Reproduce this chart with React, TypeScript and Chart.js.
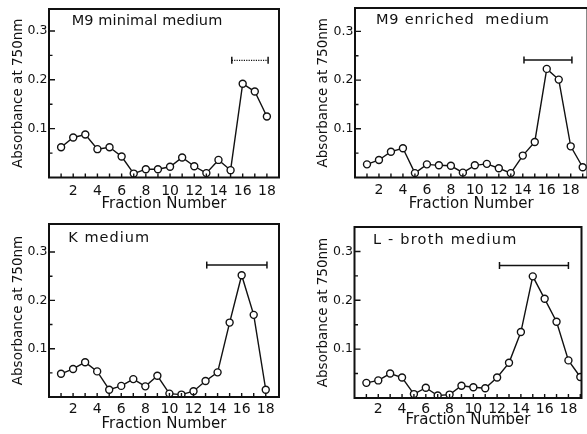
import { useEffect, useRef } from 'react';
import { Chart, registerables } from 'chart.js';

Chart.register(...registerables);

// ---------- data ----------
const fractions18 = [1, 2, 3, 4, 5, 6, 7, 8, 9, 10, 11, 12, 13, 14, 15, 16, 17, 18];
const fractions19 = [1, 2, 3, 4, 5, 6, 7, 8, 9, 10, 11, 12, 13, 14, 15, 16, 17, 18, 19];

const m9MinimalValues = [0.062, 0.082, 0.088, 0.058, 0.062, 0.043, 0.008, 0.017, 0.017, 0.022, 0.041, 0.023, 0.009, 0.036, 0.015, 0.192, 0.176, 0.125];
const m9EnrichedValues = [0.027, 0.036, 0.053, 0.060, 0.009, 0.027, 0.025, 0.024, 0.010, 0.025, 0.028, 0.019, 0.009, 0.045, 0.073, 0.223, 0.201, 0.064, 0.021];
const kMediumValues = [0.048, 0.058, 0.072, 0.053, 0.015, 0.023, 0.037, 0.022, 0.044, 0.007, 0.005, 0.012, 0.033, 0.051, 0.154, 0.252, 0.170, 0.015];
const lBrothValues = [0.031, 0.036, 0.050, 0.042, 0.008, 0.021, 0.005, 0.007, 0.025, 0.022, 0.020, 0.042, 0.072, 0.135, 0.249, 0.203, 0.156, 0.077, 0.043];

// pooled-fraction bars: [from, to, level]
const m9MinimalPool = [15.1, 18.1, 0.24];
const m9EnrichedPool = [14.1, 18.1, 0.241];
const kMediumPool = [13.1, 18.1, 0.273];
const lBrothPool = [12.2, 18.0, 0.271];

const panelTitles = ['M9 minimal medium', 'M9 enriched  medium', 'K medium', 'L - broth medium'];
const xTickLabels = [2, 4, 6, 8, 10, 12, 14, 16, 18];
const yTickLabels = [0.1, 0.2, 0.3];
const yMinorTicks = [0.05, 0.15, 0.25];
const xAxisTitle = 'Fraction Number';
const yAxisTitle = 'Absorbance at 750nm';

// ---------- layout (positions / styles) ----------
type Layout = {
  left: number; top: number; w: number; h: number;
  areaLeft: number; areaTop: number; areaRight: number; areaBottom: number;
  xMax: number; yMax: number;
  yTitlePad: number; xLabelPad: number; xTitlePad: number;
  titleDx: number; titleDy: number; titleSpacing: number;
  dashed: boolean;
};

const layouts: Layout[] = [
  { left: 0, top: 0, w: 293, h: 217, areaLeft: 49, areaTop: 9, areaRight: 279, areaBottom: 177.5, xMax: 19, yMax: 0.345,
    yTitlePad: 9.9, xLabelPad: 5, xTitlePad: 4, titleDx: 22.7, titleDy: 12.7, titleSpacing: 0.1, dashed: true },
  { left: 293, top: 0, w: 300, h: 217, areaLeft: 62, areaTop: 8, areaRight: 296.7, areaBottom: 177.5, xMax: 19.4, yMax: 0.348,
    yTitlePad: 22.4, xLabelPad: 4.5, xTitlePad: 4, titleDx: 21, titleDy: 12, titleSpacing: 0.8, dashed: false },
  { left: 0, top: 217, w: 293, h: 217, areaLeft: 49, areaTop: 7, areaRight: 279, areaBottom: 180, xMax: 19.1, yMax: 0.358,
    yTitlePad: 9.9, xLabelPad: 4.3, xTitlePad: 0.7, titleDx: 19.3, titleDy: 14.7, titleSpacing: 1, dashed: false },
  { left: 293, top: 217, w: 294, h: 217, areaLeft: 61.5, areaTop: 10, areaRight: 292.5, areaBottom: 181, xMax: 19.1, yMax: 0.35,
    yTitlePad: 22.4, xLabelPad: 3.3, xTitlePad: 4.7, titleDx: 18.5, titleDy: 13.3, titleSpacing: 1.2, dashed: false },
];

const panelSeries = [
  { xs: fractions18, ys: m9MinimalValues, pool: m9MinimalPool },
  { xs: fractions19, ys: m9EnrichedValues, pool: m9EnrichedPool },
  { xs: fractions18, ys: kMediumValues, pool: kMediumPool },
  { xs: fractions19, ys: lBrothValues, pool: lBrothPool },
];

const FONT = '"DejaVu Sans", sans-serif';
const INK = '#111';

function Panel({ index }: { index: number }) {
  const ref = useRef<HTMLCanvasElement | null>(null);
  const L = layouts[index];
  const S = panelSeries[index];

  useEffect(() => {
    if (!ref.current) return;
    const title = panelTitles[index];

    const framePlugin = {
      id: 'frame' + index,
      afterDraw(chart: any) {
        const { ctx, chartArea, scales } = chart;
        const xs = scales.x;
        const ys = scales.y;
        ctx.save();
        ctx.strokeStyle = INK;
        ctx.fillStyle = INK;
        // minor x ticks (inside)
        ctx.lineWidth = 1.4;
        ctx.beginPath();
        for (const f of S.xs) {
          const px = xs.getPixelForValue(f);
          if (px > chartArea.right - 1) continue;
          ctx.moveTo(px, chartArea.bottom);
          ctx.lineTo(px, chartArea.bottom - 4);
        }
        // y ticks (inside)
        for (const v of yTickLabels) {
          const py = ys.getPixelForValue(v);
          ctx.moveTo(chartArea.left, py);
          ctx.lineTo(chartArea.left + 6, py);
        }
        for (const v of yMinorTicks) {
          const py = ys.getPixelForValue(v);
          ctx.moveTo(chartArea.left, py);
          ctx.lineTo(chartArea.left + 3.5, py);
        }
        ctx.stroke();
        // frame
        ctx.lineWidth = 2;
        ctx.strokeRect(chartArea.left, chartArea.top, chartArea.right - chartArea.left, chartArea.bottom - chartArea.top);
        // title inside plot
        ctx.font = '14.5px ' + FONT;
        (ctx as any).letterSpacing = L.titleSpacing + 'px';
        ctx.textAlign = 'left';
        ctx.textBaseline = 'middle';
        ctx.fillText(title, chartArea.left + L.titleDx, chartArea.top + L.titleDy);
        ctx.restore();
      },
    };

    const chart = new Chart(ref.current, {
      type: 'line',
      data: {
        datasets: [
          {
            data: S.xs.map((x, i) => ({ x, y: S.ys[i] })),
            borderColor: INK,
            borderWidth: 1.4,
            pointRadius: 3.5,
            pointBackgroundColor: '#fff',
            pointBorderColor: INK,
            pointBorderWidth: 1.4,
            tension: 0,
          },
          {
            data: [
              { x: S.pool[0], y: S.pool[2] },
              { x: S.pool[1], y: S.pool[2] },
            ],
            borderColor: INK,
            borderWidth: L.dashed ? 1.2 : 1.5,
            borderDash: L.dashed ? [1.2, 1.2] : [],
            pointStyle: 'line',
            rotation: 90,
            pointRadius: 3.5,
            pointBorderColor: INK,
            pointBorderWidth: 1.5,
          },
        ],
      },
      options: {
        animation: false,
        responsive: false,
        devicePixelRatio: 1,
        events: [],
        layout: { padding: { left: 0, top: L.areaTop, right: L.w - L.areaRight, bottom: 0 } },
        plugins: { legend: { display: false }, tooltip: { enabled: false }, title: { display: false } },
        scales: {
          x: {
            type: 'linear',
            min: 0,
            max: L.xMax,
            grid: { display: false, drawTicks: false },
            border: { display: false },
            ticks: {
              color: INK,
              font: { family: FONT, size: 14 },
              padding: L.xLabelPad,
              maxRotation: 0,
              autoSkip: false,
              callback: (v: any) => String(v),
            },
            afterBuildTicks: (s: any) => {
              s.ticks = xTickLabels.map((value) => ({ value }));
            },
            afterFit: (s: any) => {
              s.height = L.h - L.areaBottom;
              s.paddingLeft = 0;
              s.paddingRight = 0;
            },
            title: {
              display: true,
              text: xAxisTitle,
              color: INK,
              font: { family: FONT, size: 15 },
              padding: { top: 0, bottom: L.xTitlePad },
            },
          },
          y: {
            type: 'linear',
            min: 0,
            max: L.yMax,
            grid: { display: false, drawTicks: false },
            border: { display: false },
            ticks: {
              color: INK,
              font: { family: FONT, size: 12.5 },
              padding: 1.5,
              callback: (v: any) => Number(v).toFixed(1),
            },
            afterBuildTicks: (s: any) => {
              s.ticks = yTickLabels.map((value) => ({ value }));
            },
            afterFit: (s: any) => {
              s.width = L.areaLeft;
              s.paddingTop = 0;
              s.paddingBottom = 0;
            },
            title: {
              display: true,
              text: yAxisTitle,
              color: INK,
              font: { family: FONT, size: 13.5 },
              padding: { top: L.yTitlePad, bottom: 0 },
            },
          },
        },
      },
      plugins: [framePlugin],
    } as any);
    return () => chart.destroy();
  }, [index]);

  return (
    <canvas
      ref={ref}
      width={L.w}
      height={L.h}
      style={{ position: 'absolute', left: L.left, top: L.top, width: L.w, height: L.h }}
    />
  );
}

export default function App() {
  return (
    <div
      style={{
        position: 'fixed',
        left: 0,
        top: 0,
        width: 587,
        height: 434,
        overflow: 'hidden',
        background: '#fff',
      }}
    >
      {layouts.map((_, i) => (
        <Panel key={i} index={i} />
      ))}
    </div>
  );
}
